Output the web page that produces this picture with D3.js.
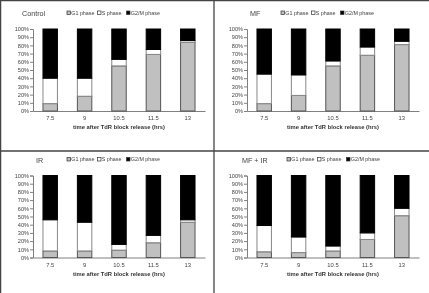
<!DOCTYPE html>
<html>
<head>
<meta charset="utf-8">
<script src="https://cdn.jsdelivr.net/npm/d3@7"></script>
<style>
  body { margin: 0; background: #fff; }
  svg { display: block; font-family: "Liberation Sans", Arial, sans-serif; will-change: transform; }
</style>
</head>
<body>
<div id="chart"></div>
<script>
'use strict';

const width = 429;
const height = 293;

// categories and tick labels
const times = ["7.5", "9", "10.5", "11.5", "13"];
const phases = ["G1 phase", "S phase", "G2/M phase"];
const yTicks = [0, 10, 20, 30, 40, 50, 60, 70, 80, 90, 100];

// panel titles
const panelNames = ["Control", "MF", "IR", "MF + IR"];

// G1 and S percentages; G2/M is the rest up to 100
const controlG1 = [9, 18, 55, 69, 84];
const controlS = [31, 22, 8, 6, 2];
const mfG1 = [9, 19, 55, 68, 81];
const mfS = [36, 25, 6, 10, 4];
const irG1 = [8, 8, 9, 18, 43];
const irS = [38, 35, 7, 9, 3];
const mfirG1 = [7, 6, 8, 22, 51];
const mfirS = [32, 19, 6, 8, 9];

const seriesG1 = [controlG1, mfG1, irG1, mfirG1];
const seriesS = [controlS, mfS, irS, mfirS];

const fills = ["#c0c0c0", "#ffffff", "#000000"];
const strokes = ["#555", "#888", "#000"];

// placement of each panel
const panels = [
  { dx: 0, dy: 0, titleX: 22 },
  { dx: 214, dy: 0, titleX: 36 },
  { dx: 0, dy: 146.5, titleX: 36 },
  { dx: 214, dy: 146.5, titleX: 28 }
];

const svg = d3.select("#chart")
  .append("svg")
  .attr("width", width)
  .attr("height", height);

const x = d3.scaleBand()
  .domain(times)
  .range([33, 205])
  .paddingInner(0.58)
  .paddingOuter(0.29);

const y = d3.scaleLinear()
  .domain([0, 100])
  .range([111, 29]);

panels.forEach((p, i) => {
  const g = svg.append("g").attr("transform", `translate(${p.dx},${p.dy})`);

  const rows = times.map((t, j) => {
    const g1 = seriesG1[i][j];
    const s = seriesS[i][j];
    return { time: t, "G1 phase": g1, "S phase": s, "G2/M phase": 100 - g1 - s };
  });
  const stacked = d3.stack().keys(phases)(rows);

  // axes first so bars sit over them
  const yAxis = g.append("g")
    .attr("transform", "translate(33,0)")
    .call(d3.axisLeft(y).tickValues(yTicks).tickSize(3).tickFormat(d => d + "%"));
  yAxis.select(".domain").attr("stroke", "#808080");
  yAxis.selectAll(".tick line").attr("stroke", "#808080");
  yAxis.selectAll("text")
    .attr("font-size", 5.6)
    .attr("fill", "#444")
    .attr("x", -4);

  const xAxis = g.append("g")
    .attr("transform", "translate(0,111)")
    .call(d3.axisBottom(x).tickSize(0).tickSizeOuter(0));
  xAxis.select(".domain").attr("stroke", "#808080");
  xAxis.selectAll("text")
    .attr("font-size", 5.8)
    .attr("fill", "#444")
    .attr("dy", "0.71em")
    .attr("y", 5);

  g.append("g")
    .selectAll("g")
    .data(stacked)
    .join("g")
    .attr("fill", (d, k) => fills[k])
    .attr("stroke", (d, k) => strokes[k])
    .attr("stroke-width", 1)
    .selectAll("rect")
    .data(d => d)
    .join("rect")
    .attr("x", d => x(d.data.time))
    .attr("width", x.bandwidth())
    .attr("y", d => y(d[1]))
    .attr("height", d => y(d[0]) - y(d[1]));

  g.append("text")
    .attr("x", 119)
    .attr("y", 129)
    .attr("text-anchor", "middle")
    .attr("font-size", 5.8)
    .attr("font-weight", "bold")
    .attr("fill", "#333")
    .text("time after TdR block release (hrs)");

  g.append("text")
    .attr("x", p.titleX)
    .attr("y", 16)
    .attr("font-size", 7.2)
    .attr("fill", "#444")
    .text(panelNames[i]);

  // legend
  const legendX = i === 3 ? 73 : 67;
  const legendOffsets = [0, 30.5, 59.5];
  const lg = g.append("g").attr("transform", `translate(${legendX},13)`);
  phases.forEach((ph, k) => {
    lg.append("rect")
      .attr("x", legendOffsets[k])
      .attr("y", -2)
      .attr("width", 3.5)
      .attr("height", 3.5)
      .attr("fill", fills[k])
      .attr("stroke", "#333")
      .attr("stroke-width", 0.7);
    lg.append("text")
      .attr("x", legendOffsets[k] + 4.2)
      .attr("y", 1.6)
      .attr("font-size", 5.4)
      .attr("fill", "#444")
      .text(ph);
  });
});

// frame lines round the panels
const frame = svg.append("g").attr("stroke", "#444").attr("stroke-width", 1.3);
frame.append("line").attr("x1", 0).attr("x2", width).attr("y1", 0.6).attr("y2", 0.6);
frame.append("line").attr("x1", 0.6).attr("x2", 0.6).attr("y1", 0).attr("y2", height);
frame.append("line").attr("x1", 214).attr("x2", 214).attr("y1", 0).attr("y2", height);
frame.append("line").attr("x1", 0).attr("x2", width).attr("y1", 151).attr("y2", 151);
</script>
</body>
</html>
